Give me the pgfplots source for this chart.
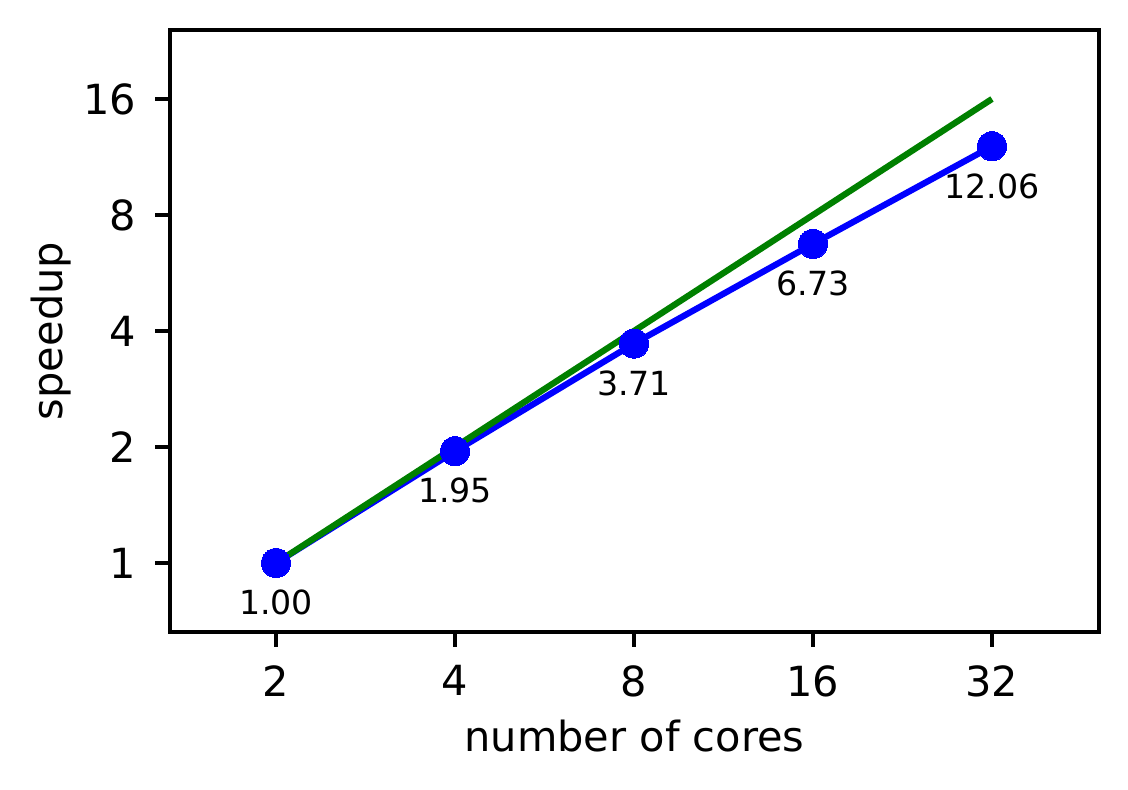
\documentclass[border=0pt]{standalone}
\usepackage{fontspec}
\setmainfont{DejaVu Sans}
\usepackage{pgfplots}
\pgfplotsset{compat=1.18}

\begin{document}
\begin{tikzpicture}
% page = 1128x789 px at 0.24 bp/px
\useasboundingbox (-40.8bp,-37.68bp) rectangle (229.92bp,151.68bp);
\begin{axis}[
	at={(0,0)}, anchor=south west,
	scale only axis, width=222.96bp, height=144.48bp,
	xmode=log, ymode=log, log basis x=2, log basis y=2,
	xmin=1.3266, xmax=48.43, ymin=0.6622, ymax=24.16,
	xtick={2,4,8,16,32}, xticklabels={2,4,8,16,32},
	ytick={1,2,4,8,16}, yticklabels={1,2,4,8,16},
	minor tick num=0, log ticks with fixed point,
	axis line style={line width=0.8bp},
	tick style={line width=0.8bp, black}, tick align=outside,
	major tick length=3.5bp,
	xtick pos=bottom, ytick pos=left,
	x tick label style={font=\fontsize{10}{12}\selectfont, anchor=north, inner sep=0pt, yshift=-4.4bp},
	y tick label style={font=\fontsize{10}{12}\selectfont, anchor=east, inner sep=0pt, xshift=-4.4bp},
	xlabel={number of cores}, ylabel={speedup},
	xlabel style={font=\fontsize{10}{12}\selectfont, at={(axis description cs:0.5,-0.1988)}, anchor=base, inner sep=0pt},
	ylabel style={font=\fontsize{10}{12}\selectfont, at={(axis description cs:-0.1153,0.5)}, anchor=base, inner sep=0pt},
	clip=false,
	]
	\addplot [blue, line width=1.5bp, mark=*, mark size=3.5bp, mark options={fill=blue, draw=blue, line width=0pt},
		nodes near coords, point meta=explicit symbolic,
		every node near coord/.style={anchor=north, inner sep=0pt, yshift=-6.5bp, black, font=\fontsize{8}{9.6}\selectfont}]
	coordinates {(2,1.00)[1.00] (4,1.95)[1.95] (8,3.71)[3.71] (16,6.73)[6.73] (32,12.06)[12.06]};
	\addplot [green!50!black, line width=1.5bp, no marks] coordinates {(2,1) (4,2) (8,4) (16,8) (32,16)};
\end{axis}
\end{tikzpicture}
\end{document}
